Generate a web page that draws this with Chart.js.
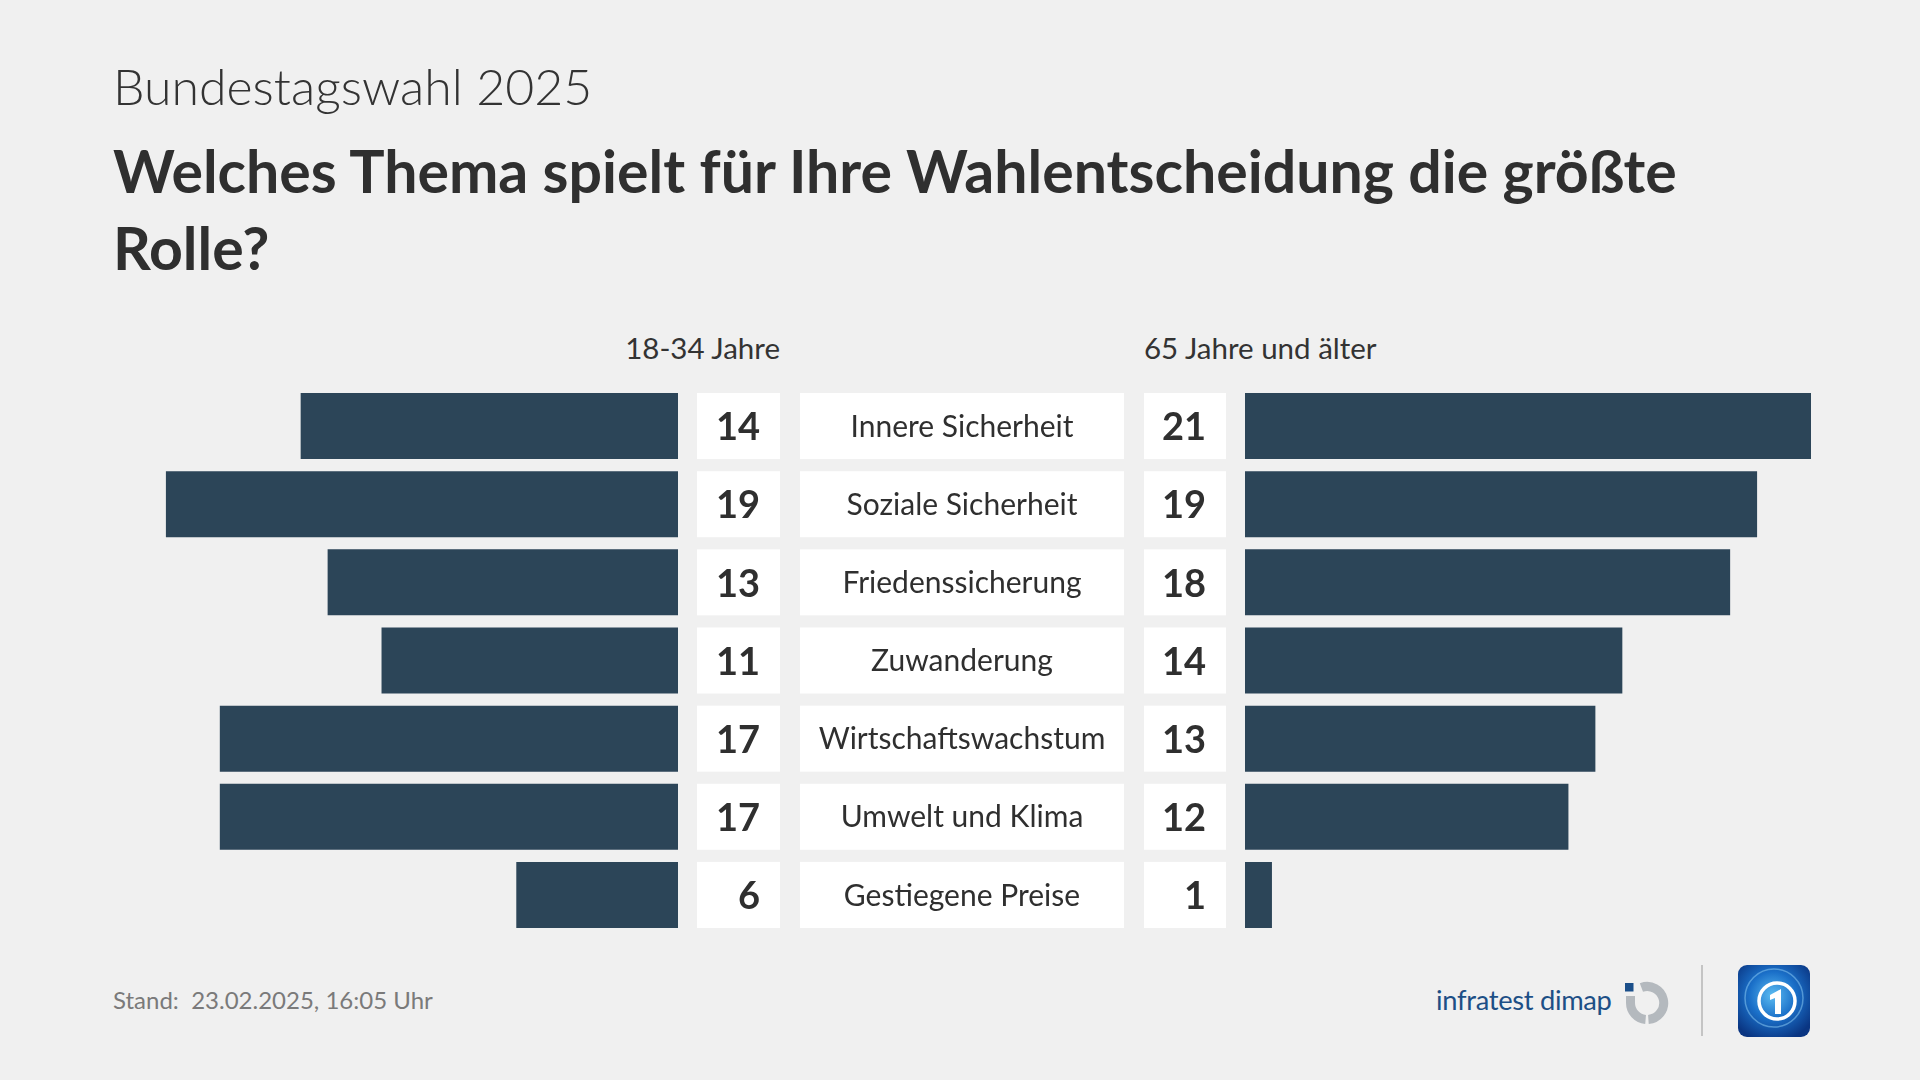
<!DOCTYPE html>
<html lang="de">
<head>
<meta charset="utf-8">
<script src="https://cdn.jsdelivr.net/npm/chart.js@4/dist/chart.umd.min.js"></script>
<style>
  html,body{margin:0;padding:0;}
  body{width:1920px;height:1080px;background:#f0f0f0;position:relative;overflow:hidden;font-family:Lato,"Noto Sans",sans-serif;color:#2f2f2f;}
  .abs{position:absolute;white-space:nowrap;}
  #sub{left:113px;top:56px;font-size:50px;font-weight:300;line-height:60px;color:#333;}
  #title{left:113px;top:132px;font-size:59px;font-weight:700;line-height:77px;color:#2f2f2f;}
  .hdr{top:331px;font-size:29.5px;line-height:34px;color:#333;}
  #hL{right:calc(1920px - 780px);}
  #hR{left:1144px;}
  #foot{left:113px;top:985px;font-size:24px;line-height:30px;color:#7a7a7a;}
  #brand{left:1436px;top:983px;font-size:27.3px;line-height:34px;color:#1d4f86;letter-spacing:-0.3px;}
  #cL{position:absolute;left:112px;top:387px;}
  #cR{position:absolute;left:1245px;top:387px;}
  #sep{position:absolute;left:1701px;top:965px;width:2px;height:71px;background:#c4c4c4;}
</style>
</head>
<body>
<div id="sub" class="abs">Bundestagswahl 2025</div>
<div id="title" class="abs">Welches Thema spielt für Ihre Wahlentscheidung die größte<br>Rolle?</div>
<div id="hL" class="abs hdr"></div>
<div id="hR" class="abs hdr"></div>
<canvas id="cL" width="1133" height="547"></canvas>
<canvas id="cR" width="675" height="547"></canvas>
<div id="foot" class="abs">Stand:&nbsp; 23.02.2025, 16:05 Uhr</div>
<div id="brand" class="abs">infratest dimap</div>
<svg class="abs" style="left:1620px;top:978px" width="52" height="50" viewBox="0 0 52 50">
  <rect x="5" y="5" width="8.5" height="8.5" fill="#1b4f8a"/>
  <path d="M10.5 18 L10.5 25 A16.5 16.5 0 0 0 25.6 41.4" fill="none" stroke="#b4b9be" stroke-width="9"/>
  <path d="M28.4 41.4 A16.5 16.5 0 1 0 21.4 9.5" fill="none" stroke="#b4b9be" stroke-width="9"/>
</svg>
<div id="sep"></div>
<svg class="abs" style="left:1738px;top:965px" width="72" height="72" viewBox="0 0 72 72">
  <defs>
    <radialGradient id="g" cx="48%" cy="42%" r="65%">
      <stop offset="0" stop-color="#5bbcf2"/>
      <stop offset="0.5" stop-color="#1a6fc8"/>
      <stop offset="1" stop-color="#0a3582"/>
    </radialGradient>
  </defs>
  <rect x="0" y="0" width="72" height="72" rx="9" fill="url(#g)"/>
  <circle cx="36" cy="33" r="29" fill="none" stroke="#8fd0f7" stroke-width="1.5" opacity="0.5"/>
  <circle cx="39" cy="36" r="18" fill="none" stroke="#ffffff" stroke-width="3.5"/>
  <path d="M32 30 L43 24 L43 49 L37 49 L37 33 L32 35 Z" fill="#ffffff"/>
</svg>
<script>
// ---- data ----
const categories = ["Innere Sicherheit","Soziale Sicherheit","Friedenssicherung","Zuwanderung","Wirtschaftswachstum","Umwelt und Klima","Gestiegene Preise"];
const young = [14,19,13,11,17,17,6];
const old = [21,19,18,14,13,12,1];
const groupLabels = ["18-34 Jahre","65 Jahre und älter"];
const scaleMax = 21;

document.getElementById('hL').textContent = groupLabels[0];
document.getElementById('hR').textContent = groupLabels[1];

const BAR = '#2c4558';
const TXT = '#2f2f2f';

const middlePlugin = {
  id: 'middle',
  afterDatasetsDraw(chart) {
    const ctx = chart.ctx;
    const ys = chart.scales.y;
    const x0 = chart.chartArea.right;
    const meta = chart.getDatasetMeta(0);
    const boxes = [[19,102],[122,446],[466,548]];
    ctx.save();
    categories.forEach((cat, i) => {
      const yc = ys.getPixelForValue(i);
      const h = meta.data[i].height;
      ctx.fillStyle = '#ffffff';
      boxes.forEach(b => ctx.fillRect(x0 + b[0], yc - h/2, b[1] - b[0], h));
      ctx.fillStyle = TXT;
      ctx.textBaseline = 'middle';
      ctx.font = '700 38px Lato, "Noto Sans", sans-serif';
      ctx.textAlign = 'right';
      ctx.fillText(String(young[i]), x0 + boxes[0][1] - 20, yc + 2);
      ctx.fillText(String(old[i]), x0 + boxes[2][1] - 20, yc + 2);
      ctx.font = '400 30px Lato, "Noto Sans", sans-serif';
      ctx.textAlign = 'center';
      ctx.fillText(cat, x0 + (boxes[1][0] + boxes[1][1]) / 2, yc + 1);
    });
    ctx.restore();
  }
};

function makeChart(id, values, reverse, padRight, plugins) {
  return new Chart(document.getElementById(id), {
    type: 'bar',
    data: { labels: categories, datasets: [{ data: values, backgroundColor: BAR, borderWidth: 0, barPercentage: 1, categoryPercentage: 0.845 }] },
    options: {
      indexAxis: 'y', responsive: false, maintainAspectRatio: false, animation: false,
      layout: { padding: { left: 0, right: padRight, top: 0, bottom: 0 } },
      scales: {
        x: { display: false, reverse: reverse, min: 0, max: scaleMax },
        y: { display: false }
      },
      plugins: { legend: { display: false }, tooltip: { enabled: false } }
    },
    plugins: plugins
  });
}
makeChart('cL', young, true, 567, [middlePlugin]);
makeChart('cR', old, false, 109, []);
</script>
</body>
</html>
